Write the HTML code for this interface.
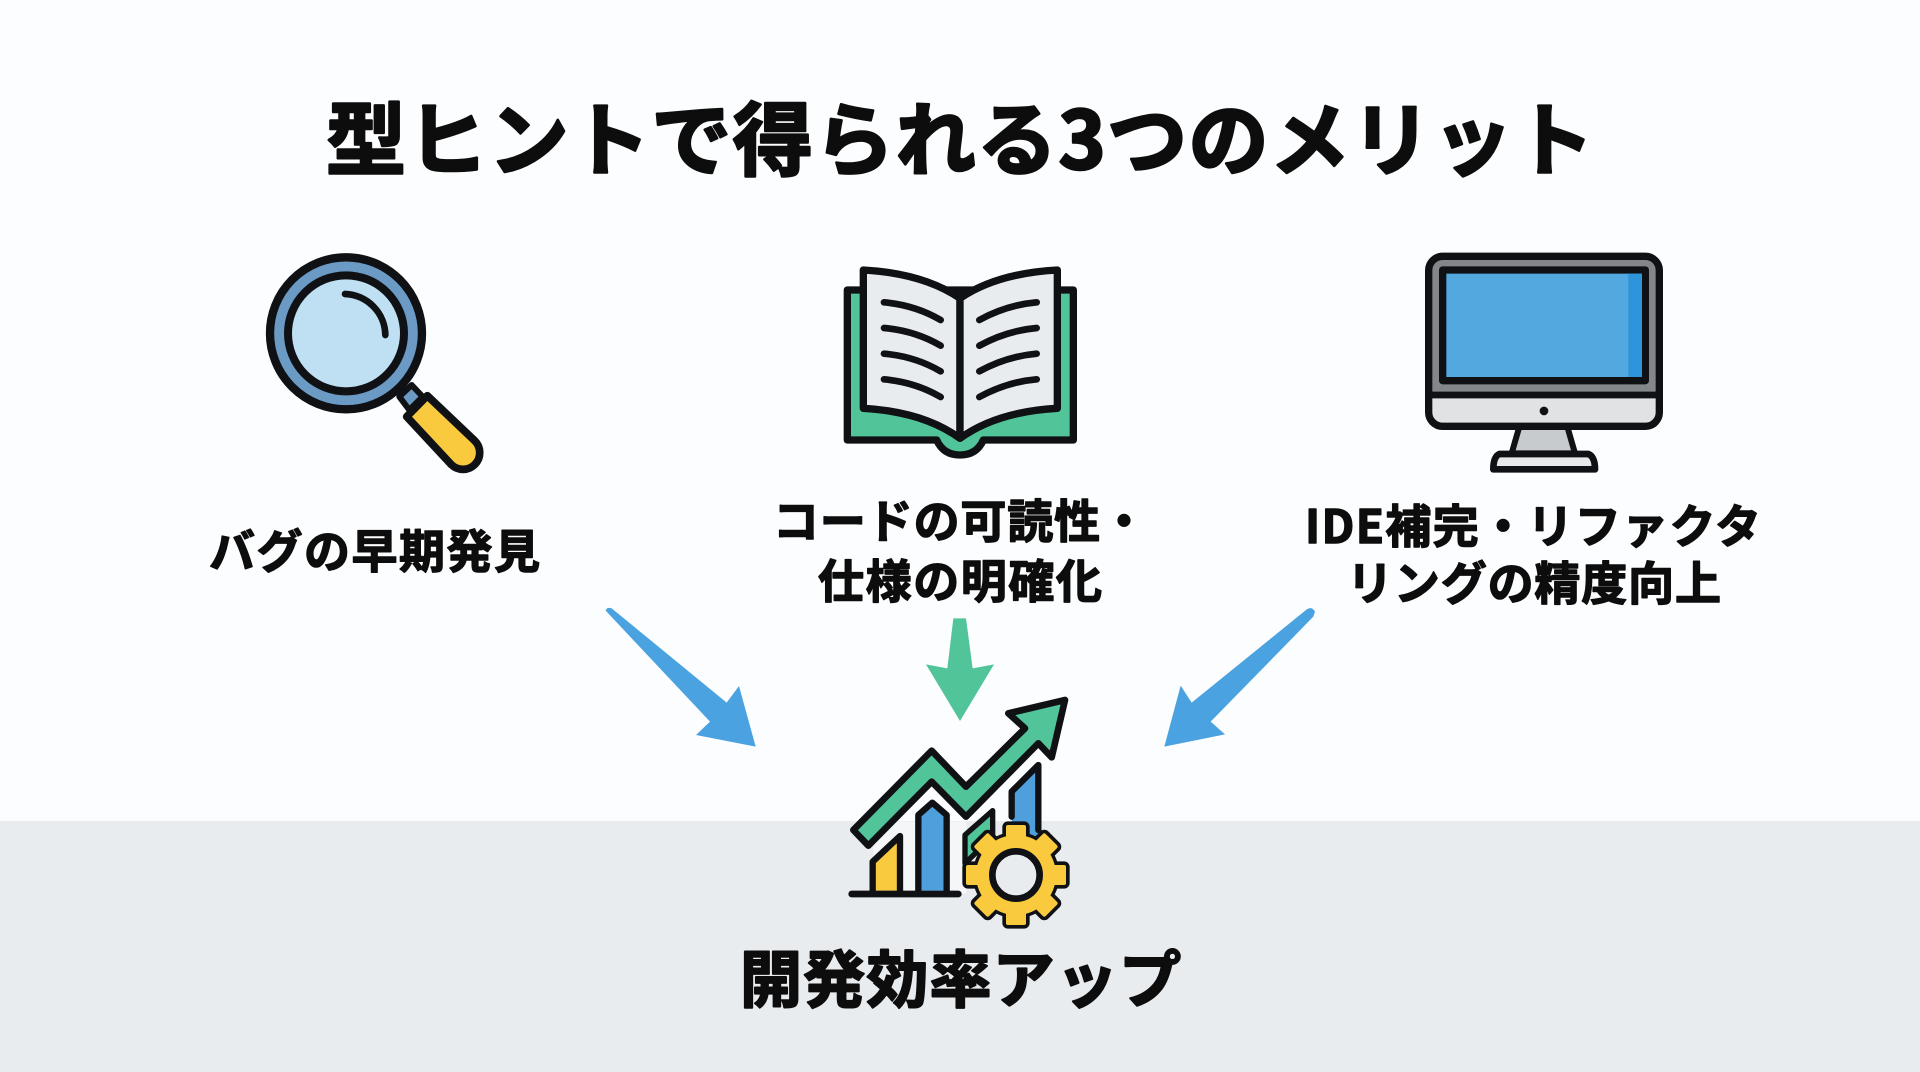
<!DOCTYPE html>
<html lang="ja"><head><meta charset="utf-8"><title>型ヒントで得られる3つのメリット</title>
<style>
html,body{margin:0;padding:0;width:1920px;height:1072px;overflow:hidden;background:#fbfdfe}
svg{display:block}
text{font-family:"Noto Sans CJK JP","Liberation Sans",sans-serif;font-weight:700;fill:#0d0d0d;stroke:#0d0d0d;stroke-linejoin:round}
</style></head><body>
<svg xmlns="http://www.w3.org/2000/svg" width="1920" height="1072" viewBox="0 0 1920 1072">
<defs>
<rect id="t" x="-30" y="-150" width="60" height="52" rx="6"/>
<g id="teeth">
<use href="#t"/><use href="#t" transform="rotate(45)"/><use href="#t" transform="rotate(90)"/><use href="#t" transform="rotate(135)"/>
<use href="#t" transform="rotate(180)"/><use href="#t" transform="rotate(225)"/><use href="#t" transform="rotate(270)"/><use href="#t" transform="rotate(315)"/>
</g>
</defs>
<rect width="1920" height="1072" fill="#fbfdfe"/>
<rect y="821" width="1920" height="251" fill="#e9ecef"/>

<text x="326" y="169" font-size="80" textLength="1268" lengthAdjust="spacing" stroke-width="2.6">型ヒントで得られる3つのメリット</text>

<text x="209" y="568" font-size="46" textLength="331" stroke-width="1.4">バグの早期発見</text>
<text x="773" y="538" font-size="46" textLength="374" stroke-width="1.4">コードの可読性・</text>
<text x="818" y="598" font-size="46" textLength="284" stroke-width="1.4">仕様の明確化</text>
<text x="1305" y="543" font-size="46" textLength="456" stroke-width="1.4">IDE補完・リファクタ</text>
<text x="1347" y="600" font-size="46" textLength="374" stroke-width="1.4">リングの精度向上</text>
<text x="740" y="1002" font-size="62" textLength="441" stroke-width="2">開発効率アップ</text>

<!-- magnifier -->
<g transform="translate(240 230) scale(.33333)" stroke="#0f1114" stroke-linejoin="round">
<polygon points="478,500 515,465 548,500 508,540" fill="#6b9ac4" stroke-width="18"/>
<path d="M562 497 L704 632 A50 50 0 0 1 634 704 L500 560 Z" fill="#f9c93e" stroke-width="23"/>
<circle cx="318" cy="310" r="228" fill="#6b9ac4" stroke-width="25"/>
<circle cx="318" cy="310" r="174" fill="#bfe0f3" stroke-width="24"/>
<path d="M315 192 A125 125 0 0 1 436 315" fill="none" stroke-width="20" stroke-linecap="round"/>
</g>

<!-- book -->
<g transform="translate(830 250) scale(.33333)" stroke="#0f1114" stroke-linejoin="round" stroke-linecap="round">
<path d="M52 120 H730 V570 H460 Q440 615 390 615 Q340 615 320 570 H52 Z" fill="#52c49a" stroke-width="22"/>
<path d="M100 60 Q280 70 390 145 V565 Q280 485 100 475 Z" fill="#e9ecee" stroke-width="22"/>
<path d="M682 60 Q500 70 390 145 V565 Q500 485 682 475 Z" fill="#e9ecee" stroke-width="22"/>
<g fill="none" stroke-width="20">
<path d="M162 157 Q255 165 332 210"/><path d="M162 234 Q255 242 332 287"/><path d="M162 311 Q255 319 332 364"/><path d="M162 388 Q255 396 332 441"/>
<path d="M620 157 Q530 165 448 210"/><path d="M620 234 Q530 242 448 287"/><path d="M620 311 Q530 319 448 364"/><path d="M620 388 Q530 396 448 441"/>
</g>
</g>

<!-- monitor -->
<g transform="translate(1410 240) scale(.33333)" stroke="#0f1114" stroke-linejoin="round">
<path d="M328 560 L305 640 H495 L472 560 Z" fill="#c8cbcd" stroke-width="18"/>
<path d="M268 642 H535 Q555 650 555 688 H250 Q250 650 268 642 Z" fill="#e6e8e9" stroke-width="20"/>
<rect x="56" y="49" width="692" height="510" rx="42" fill="#84878a" stroke="none"/>
<path d="M56 465 H748 V517 Q748 559 706 559 H98 Q56 559 56 517 Z" fill="#e0e2e3" stroke="none"/>
<rect x="56" y="49" width="692" height="510" rx="42" fill="none" stroke-width="22"/>
<path d="M56 465 H748" stroke-width="20" fill="none"/>
<rect x="98" y="90" width="608" height="332" fill="#54a8e0" stroke-width="22"/>
<rect x="655" y="101" width="41" height="310" fill="#2f95db" stroke="none"/>
<circle cx="402" cy="513" r="13" fill="#0f1114" stroke="none"/>
</g>

<!-- flow arrows -->
<g transform="translate(590 590) scale(.33333)"><path d="M47 62 Q50 50 65 55 L410 338 L447 288 L497 470 L318 435 L360 395 Z" fill="#4aa3e0"/></g>
<g transform="translate(1150 595) scale(.33333)"><path d="M468 45 Q485 32 495 50 L490 65 L182 380 L225 418 L43 455 L92 272 L125 323 Z" fill="#4aa3e0"/></g>
<g transform="translate(900 605) scale(.33333)"><path d="M160 40 H198 L218 190 L282 178 L180 348 L78 178 L142 190 Z" fill="#52c49a"/></g>

<!-- chart + gear -->
<g transform="translate(830 680) scale(.33333)" stroke="#0f1114" stroke-linejoin="round" stroke-linecap="round">
<rect x="130" y="425" width="280" height="215" fill="#f4f6f7" stroke="none"/>
<path d="M128 632 V545 L210 468 V632" fill="#f9c93e" stroke-width="19"/>
<path d="M265 632 V405 L307 368 L350 405 V632" fill="#4f9fdc" stroke-width="19"/>
<path d="M405 550 V465 L488 392 V470 L405 550" fill="#52c49a" stroke-width="16"/>
<path d="M545 430 V335 L625 255 V470 H545 Z" fill="#4f9fdc" stroke="none"/>
<path d="M545 410 V335 L625 255 V450" fill="none" stroke-width="19"/>
<path d="M65 642 H385" stroke-width="20" fill="none"/>
<path d="M70 450 L305 212 L408 320 L585 145 L535 100 L705 60 L665 232 L625 190 L408 410 L305 305 L115 497 Z" fill="#52c49a" stroke-width="20"/>
<g transform="translate(558 585)">
<use href="#teeth" fill="#0f1114" stroke-width="22"/>
<circle r="130" fill="#0f1114" stroke="none"/>
<use href="#teeth" fill="#f9c93e" stroke="none"/>
<circle r="120" fill="#f9c93e" stroke="none"/>
<circle r="71" fill="#e9ecef" stroke-width="20"/>
</g>
</g>
</svg>
</body></html>
